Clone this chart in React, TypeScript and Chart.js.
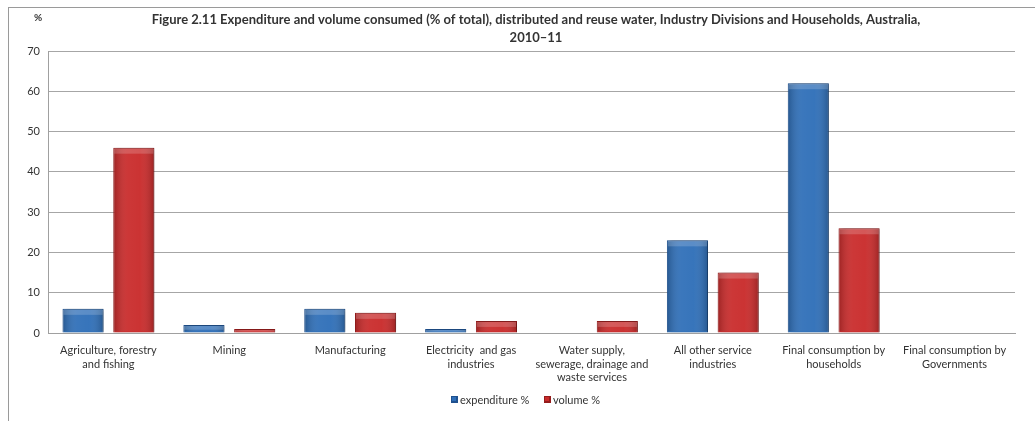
import React, { useEffect, useRef } from "react";
import { Chart, registerables } from "chart.js";

Chart.register(...registerables);

const categories: string[][] = [
  ["Agriculture, forestry", "and fishing"],
  ["Mining"],
  ["Manufacturing"],
  ["Electricity  and gas", "industries"],
  ["Water supply,", "sewerage, drainage and", "waste services"],
  ["All other service", "industries"],
  ["Final consumption by", "households"],
  ["Final consumption by", "Governments"],
];
const expenditure = [6, 2, 6, 1, 0, 23, 62, 0];
const volume = [46, 1, 5, 3, 3, 15, 26, 0];
const seriesNames = ["expenditure %", "volume %"];
const titleLines = [
  "Figure 2.11 Expenditure and volume consumed (% of total), distributed and reuse water, Industry Divisions and Households, Australia,",
  "2010\u201311",
];
const yUnit = "%";

const FONT = "Lato, 'Open Sans', sans-serif";
const BLUE = "#2f6fb8";
const BLUE_EDGE = "#1f518f";
const RED = "#c92b2b";
const RED_EDGE = "#951c1c";

const extras = {
  id: "extras",
  beforeDatasetsDraw(chart: any) {
    const c = chart.ctx;
    c.save();
    c.shadowColor = "rgba(0,0,0,0.35)";
    c.shadowBlur = 4;
    c.shadowOffsetX = 2;
    c.shadowOffsetY = 0;
  },
  afterDatasetsDraw(chart: any) {
    const c = chart.ctx;
    c.restore();
    // subtle cylinder-like shading on each bar
    c.save();
    chart.data.datasets.forEach((_: any, di: number) => {
      const meta = chart.getDatasetMeta(di);
      meta.data.forEach((el: any) => {
        const h = el.base - el.y;
        if (h < 1) return;
        const x0 = el.x - el.width / 2;
        const g = c.createLinearGradient(x0, 0, x0 + el.width, 0);
        g.addColorStop(0, "rgba(0,0,0,0.22)");
        g.addColorStop(0.35, "rgba(255,255,255,0.06)");
        g.addColorStop(0.65, "rgba(255,255,255,0.04)");
        g.addColorStop(1, "rgba(0,0,0,0.22)");
        c.fillStyle = g;
        c.fillRect(x0 + 1, el.y + 1, el.width - 2, h - 2);
        const t = Math.min(5, h / 2);
        c.fillStyle = "rgba(255,255,255,0.18)";
        c.fillRect(x0 + 1, el.y + 1, el.width - 2, t);
      });
    });
    c.restore();
  },
  afterDraw(chart: any) {
    const c = chart.ctx;
    c.save();
    c.fillStyle = "#333333";
    c.font = `bold 13px ${FONT}`;
    c.textAlign = "center";
    c.textBaseline = "middle";
    c.fillText(titleLines[0], 536, 20);
    c.fillText(titleLines[1], 536, 38);
    c.font = `bold 10px ${FONT}`;
    c.fillText(yUnit, 38, 18);
    c.font = `11px ${FONT}`;
    c.textAlign = "left";
    const items = [
      { x: 451, color: BLUE, edge: BLUE_EDGE, label: seriesNames[0] },
      { x: 544, color: RED, edge: RED_EDGE, label: seriesNames[1] },
    ];
    items.forEach((it) => {
      c.fillStyle = it.edge;
      c.fillRect(it.x, 396, 7, 7);
      c.fillStyle = it.color;
      c.fillRect(it.x + 1, 397, 4, 4);
      c.fillStyle = "#333333";
      c.fillText(it.label, it.x + 9, 400);
    });
    c.restore();
  },
};

export default function App() {
  const ref = useRef<HTMLCanvasElement>(null);
  useEffect(() => {
    if (!ref.current) return;
    const chart = new Chart(ref.current, {
      type: "bar",
      data: {
        labels: categories,
        datasets: [
          {
            label: seriesNames[0],
            data: expenditure,
            backgroundColor: BLUE,
            borderColor: BLUE_EDGE,
            borderWidth: 1,
            categoryPercentage: 0.84,
            barPercentage: 0.81,
          },
          {
            label: seriesNames[1],
            data: volume,
            backgroundColor: RED,
            borderColor: RED_EDGE,
            borderWidth: 1,
            categoryPercentage: 0.84,
            barPercentage: 0.81,
          },
        ],
      },
      options: {
        animation: false,
        responsive: false,
        maintainAspectRatio: false,
        layout: { padding: { left: 0, right: 20, top: 51, bottom: 0 } },
        plugins: {
          legend: { display: false },
          title: { display: false },
          tooltip: { enabled: false },
        },
        scales: {
          x: {
            grid: { display: false, drawTicks: false },
            border: { color: "#a0a0a0", width: 1 },
            ticks: {
              color: "#333333",
              font: { family: FONT, size: 11, lineHeight: 1.27 },
              padding: 10,
              maxRotation: 0,
              autoSkip: false,
            },
            afterFit(scale: any) {
              scale.height = 88;
            },
          },
          y: {
            min: 0,
            max: 70,
            grid: { color: "#a6a6a6", lineWidth: 1, drawTicks: false },
            border: { color: "#a0a0a0", width: 1 },
            ticks: {
              stepSize: 10,
              color: "#333333",
              font: { family: FONT, size: 11 },
              padding: 8,
            },
            afterFit(scale: any) {
              scale.width = 48;
            },
          },
        },
      },
      plugins: [extras],
    });
    return () => chart.destroy();
  }, []);
  return (
    <div style={{ position: "fixed", left: 0, top: 0, width: 1035, height: 421, background: "#ffffff" }}>
      <div
        style={{
          position: "absolute",
          left: 8,
          top: 7,
          width: 1027,
          height: 414,
          borderLeft: "1px solid #9a9a9a",
          borderTop: "1px solid #9a9a9a",
        }}
      />
      <canvas ref={ref} width={1035} height={421} style={{ position: "absolute", left: 0, top: 0 }} />
    </div>
  );
}
